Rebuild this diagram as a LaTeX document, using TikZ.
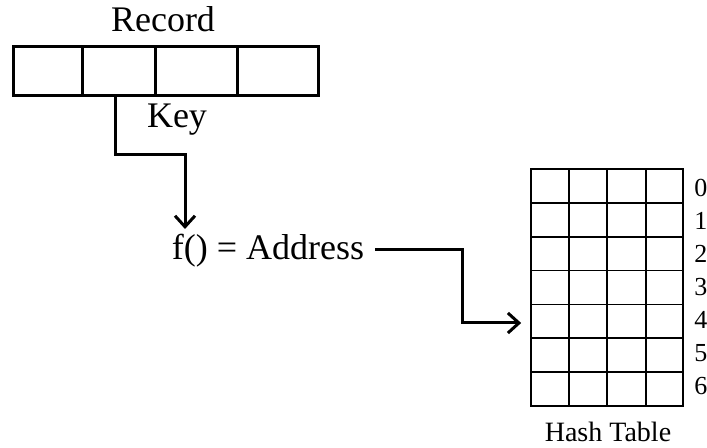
\documentclass[tikz,border=0pt]{standalone}
\usepackage{fontspec}
\setmainfont{Liberation Serif}
\usetikzlibrary{arrows.meta}
\begin{document}
\begin{tikzpicture}[x=0.5pt,y=-0.5pt,
  cell/.style={draw, line width=1.5pt, inner sep=0pt, minimum height=24.5pt, minimum width=#1},
  label/.style={inner sep=0pt, font=\fontsize{18}{21}\selectfont},
  caption/.style={inner sep=0pt, font=\fontsize{14}{16}\selectfont},
  digit/.style={inner sep=0pt, anchor=base west, font=\fontsize{13}{15}\selectfont},
  link/.style={line width=1.5pt, line join=miter, -{Straight Barb[length=5.5pt,width=10pt]}},
  grid line/.style={line width=0.85pt}
]
\useasboundingbox (0,0) rectangle (707,448);

% record with four fields
\node[cell=34.5pt] (cell1) at (47.5,71.5) {};
\node[cell=36.5pt] (cell2) at (118.5,71.5) {};
\node[cell=41pt]   (cell3) at (196,71.5) {};
\node[cell=40.5pt] (cell4) at (277.5,71.5) {};
\node[label, anchor=base] (record) at (163,32) {Record};
\node[label, anchor=base] (key) at (177,128) {Key};

% hash function
\node[label, anchor=base] (func) at (268,260) {f() = Address};

% hash table: 4 columns, 7 rows
\node[draw, grid line, inner sep=0pt, minimum width=76pt, minimum height=118.5pt] (table) at (607,287.5) {};
\foreach \x in {569,607,646}
  \draw[grid line] (\x,169) -- (\x,406);
\foreach \i in {1,...,6}
  \draw[grid line] (531,169+33.857*\i) -- (683,169+33.857*\i);
\foreach \i in {0,...,6}
  \node[digit] (row\i) at (694,197+33*\i) {\i};
\node[caption, anchor=base] (tcap) at (608,442) {Hash Table};

% key to hash function
\coordinate (k0) at ([xshift=-1.75pt]cell2.south);
\coordinate (k1) at (115,155);
\coordinate (k2) at (185,155);
\coordinate (k3) at (185,229);
\draw[link] (k0) -- (k1) -- (k2) -- (k3);

% hash function to table slot 4
\coordinate (a0) at (375,250);
\coordinate (a1) at (462,250);
\coordinate (a2) at (462,323);
\coordinate (a3) at (table.west |- a2);
\draw[link] (a0) -- (a1) -- (a2) -- ([xshift=-4.5pt]a3);
\end{tikzpicture}
\end{document}
